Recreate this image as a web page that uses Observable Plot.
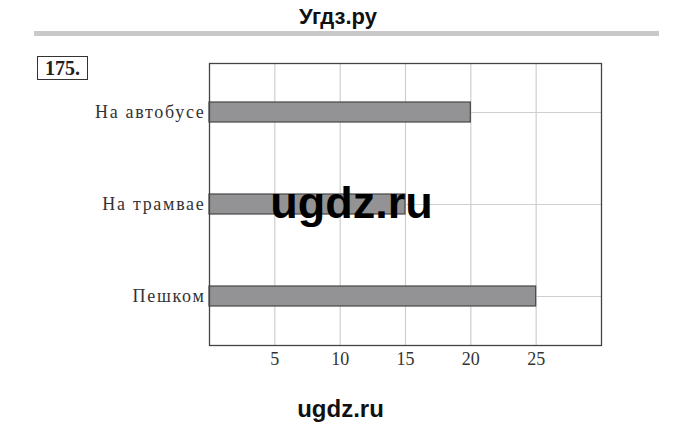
<!DOCTYPE html>
<html>
<head>
<meta charset="utf-8">
<script src="https://cdn.jsdelivr.net/npm/d3@7"></script>
<script src="https://cdn.jsdelivr.net/npm/@observablehq/plot@0.6"></script>
<style>
  html, body { margin: 0; padding: 0; background: #fff; }
  #page { position: relative; width: 680px; height: 426px; overflow: hidden; background: #fff; }
  #chart svg { position: absolute; left: 0; top: 0; }
  .ov { position: absolute; white-space: nowrap; line-height: 1; }
  #hdr { left: 0; width: 676px; top: 4px; text-align: center; font: bold 22px "Liberation Sans", Arial, sans-serif; color: #111; }
  #rule { left: 34px; width: 625px; top: 31px; height: 5px; background: #c9c9c9; }
  #num { left: 37px; top: 56px; width: 51px; height: 24px; box-sizing: border-box; border: 1.3px solid #333;
         text-align: center; font: bold 20px "Liberation Serif", serif; line-height: 22px; color: #222; }
  #wm { left: 0; width: 703px; top: 177px; text-align: center; font: bold 45px "Liberation Sans", Arial, sans-serif; color: #000; }
  #foot { left: 0; width: 681px; top: 395px; text-align: center; font: bold 24px "Liberation Sans", Arial, sans-serif; color: #111; }
</style>
</head>
<body>
<div id="page">
  <div id="chart"></div>
  <div class="ov" id="hdr">Угдз.ру</div>
  <div class="ov" id="rule"></div>
  <div class="ov" id="num">175.</div>
  <div class="ov" id="wm">ugdz.ru</div>
  <div class="ov" id="foot">ugdz.ru</div>
</div>
<script>
const categories = ["На автобусе", "На трамвае", "Пешком"];
const values = [20, 15, 25];
const xTicks = [5, 10, 15, 20, 25];
const xDomain = [0, 30];

const data = categories.map((c, i) => ({category: c, value: values[i]}));

const chart = Plot.plot({
  width: 680,
  height: 426,
  marginLeft: 209,
  marginRight: 79,
  marginTop: 63,
  marginBottom: 81,
  style: {fontFamily: "'Liberation Serif', serif", fontSize: "18px", color: "#333", background: "transparent"},
  x: {domain: xDomain, ticks: xTicks},
  y: {domain: categories, paddingInner: 0.785, paddingOuter: 0.41},
  marks: [
    Plot.gridX(xTicks, {stroke: "#cfcfcf", strokeOpacity: 1, strokeWidth: 1.2}),
    Plot.gridY({stroke: "#cfcfcf", strokeOpacity: 1, strokeWidth: 1.2}),
    Plot.barX(data, {x: "value", y: "category", fill: "#939395", stroke: "#474747", strokeWidth: 1.2}),
    Plot.frame({stroke: "#444", strokeWidth: 1.3}),
    Plot.axisX({ticks: xTicks, tickSize: 0, tickPadding: 7, label: null, fill: "#333"}),
    Plot.axisY({tickSize: 0, tickPadding: 4, label: null, fill: "#333"})
  ]
});
d3.select(chart).selectAll('g[aria-label="y-axis tick label"] text').attr("letter-spacing", "1.7px");
document.getElementById("chart").appendChild(chart);
</script>
</body>
</html>
